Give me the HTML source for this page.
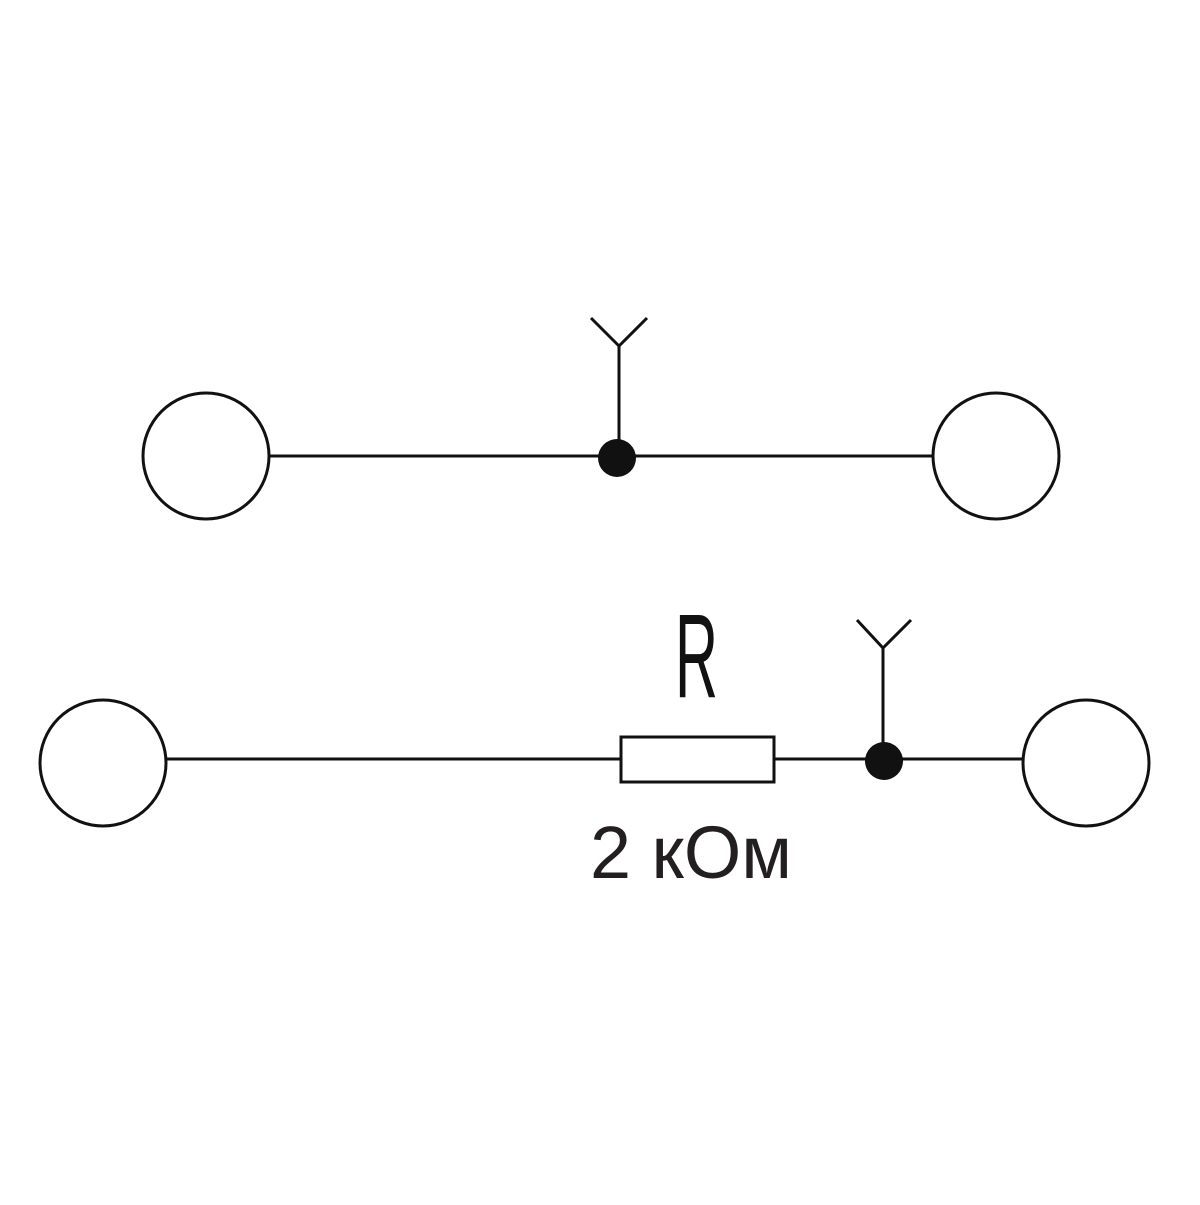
<!DOCTYPE html>
<html><head><meta charset="utf-8"><style>html,body{margin:0;padding:0;background:#fff}</style></head>
<body>
<svg width="1200" height="1200" viewBox="0 0 1200 1200" xmlns="http://www.w3.org/2000/svg">
<g fill="none" stroke="#111" stroke-width="3">
<circle cx="206" cy="456" r="63"/>
<circle cx="996" cy="456" r="63"/>
<line x1="269" y1="456" x2="933" y2="456"/>
<line x1="619" y1="456" x2="619" y2="346"/>
<line x1="619" y1="346" x2="591" y2="318"/>
<line x1="619" y1="346" x2="647" y2="318"/>
<circle cx="103" cy="763" r="63"/>
<circle cx="1086" cy="763" r="63"/>
<line x1="166" y1="759" x2="621" y2="759"/>
<rect x="621" y="737" width="153" height="45"/>
<line x1="774" y1="759" x2="1023" y2="759"/>
<line x1="883" y1="759" x2="883" y2="648"/>
<line x1="883" y1="648" x2="857" y2="620"/>
<line x1="883" y1="648" x2="911" y2="620"/>
</g>
<circle cx="617" cy="458" r="19" fill="#111"/>
<circle cx="884" cy="761" r="19" fill="#111"/>
<text x="675" y="697" font-family="Liberation Sans, sans-serif" font-size="120" font-weight="100" fill="#111" textLength="43" lengthAdjust="spacingAndGlyphs">R</text>
<text x="590" y="878" font-family="Liberation Sans, sans-serif" font-size="74" fill="#231f20" textLength="202" lengthAdjust="spacingAndGlyphs">2 кОм</text>
</svg>
</body></html>
